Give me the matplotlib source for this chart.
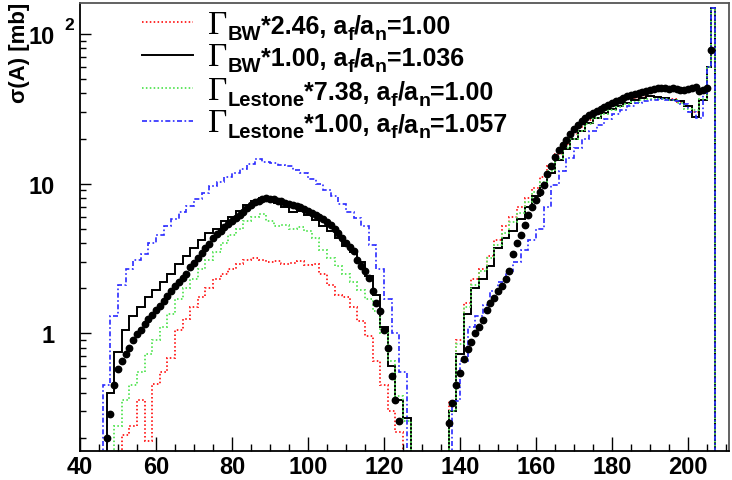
import numpy as np
import matplotlib
matplotlib.use("Agg")
import matplotlib.pyplot as plt
from matplotlib.ticker import FixedLocator, FixedFormatter, LogLocator, NullFormatter, MultipleLocator

plt.rcParams['font.family'] = 'Liberation Sans'
plt.rcParams['font.weight'] = 'bold'

# ---- measured cross sections (dots), 1 mass unit apart ----
data_left_start = 47
data_left = [0.20, 0.29, 0.45, 0.58, 0.65, 0.72, 0.80, 0.90, 0.98, 1.05,
             1.15, 1.25, 1.33, 1.42, 1.53, 1.65, 1.76, 1.9, 2.07, 2.2,
             2.35, 2.5, 2.75, 2.95, 3.2, 3.45, 3.7, 3.95, 4.3, 4.6,
             4.85, 5.1, 5.35, 5.6, 5.9, 6.2, 6.5, 6.85, 7.2, 7.5,
             7.7, 7.9, 8.0, 7.9, 7.85, 7.7, 7.6, 7.4, 7.3, 7.2,
             7.1, 7.0, 6.8, 6.6, 6.4, 6.15, 5.95, 5.75, 5.5, 5.25,
             4.95, 4.65, 4.3, 4.0, 3.75, 3.55, 3.1, 2.8, 2.6, 2.35,
             1.9, 1.6, 1.4, 1.05, 0.8, 0.52, 0.36, 0.26]
data_right_start = 137
data_right = [0.25, 0.34, 0.45, 0.54, 0.67, 0.78, 0.87, 1.0, 1.1, 1.23,
              1.43, 1.6, 1.72, 1.9, 2.08, 2.3, 2.6, 3.4, 4.0, 4.5,
              5.3, 6.2, 7.0, 7.8, 8.8, 9.8, 11.5, 13.0, 15.0, 16.7,
              18.2, 19.6, 21.5, 23.3, 24.8, 26.3, 27.5, 28.8, 29.7, 30.7,
              31.7, 32.6, 33.5, 34.4, 35.5, 36.4, 37.2, 38.2, 39.0, 39.8,
              40.5, 41.0, 41.8, 42.5, 42.8, 43.2, 43.5, 43.5, 43.0, 43.8,
              42.8, 42.4, 42.0, 43.0, 43.8, 44.2, 41.5, 42.4, 43.5, 78.0]

# ---- calculations (histograms), bins 2 units wide, 1 unit in the tail ----
bw246_left_start = 51
bw246_left = [0.21, 0.24, 0.36, 0.19, 0.46, 0.55, 0.68, 1.05, 1.25, 1.5,
              1.75, 2.0, 2.3, 2.5, 2.7, 2.9, 3.1, 3.2, 3.1, 3.0,
              3.05, 2.9, 2.95, 3.05, 2.85, 2.9, 2.5, 2.1, 1.8, 1.75,
              1.5, 1.2, 0.95, 0.65, 0.45, 0.3, 0.22]
bw100_left_start = 47
bw100_left = [0.4, 0.75, 1.05, 1.3, 1.5, 1.75, 1.95, 2.2, 2.5, 2.9,
              3.3, 3.7, 4.2, 4.7, 5.0, 5.6, 6.0, 6.6, 7.2, 7.6,
              8.0, 7.9, 7.4, 7.0, 6.5, 6.6, 6.2, 5.7, 5.2, 4.8,
              4.3, 3.8, 3.5, 3.0, 2.4, 1.8, 1.1, 0.6, 0.36, 0.27]
les738_left_start = 49
les738_left = [0.24, 0.36, 0.45, 0.55, 0.72, 0.9, 1.1, 1.35, 1.7, 2.0,
               2.3, 2.7, 3.1, 3.5, 4.0, 4.5, 5.0, 5.6, 6.0, 6.3,
               5.6, 5.2, 5.3, 5.0, 5.1, 4.8, 4.3, 3.6, 3.2, 2.8,
               2.5, 2.2, 1.95, 1.7, 1.4, 1.0, 0.65, 0.38, 0.26]
les100_left_start = 46
les100_left = [0.45, 1.3, 2.1, 2.7, 3.1, 3.4, 4.0, 4.5, 5.2, 5.8,
               6.5, 7.1, 7.9, 8.7, 9.6, 10.3, 11.0, 11.7, 12.5, 13.5,
               14.5, 14.0, 13.8, 13.4, 13.0, 12.4, 11.8, 10.8, 9.9, 9.0,
               8.2, 7.3, 6.5, 5.9, 5.2, 3.9, 2.7, 1.7, 1.0, 0.55]

bw246_right_start = 137
bw246_right = [0.35, 0.9, 1.6, 2.3, 2.7, 3.3, 4.2, 5.2, 6.0, 7.0,
               8.0, 9.3, 11.0, 13.2, 15.8, 18.5, 21.3, 24.0, 26.5, 29.0,
               31.3, 33.5, 35.0, 36.5, 37.5, 38.0, 38.5, 38.0, 37.3, 36.5,
               35.0, 33.0, 30.0, 36.0]
bw246_tail = [60, 150]
bw100_right_start = 137
bw100_right = [0.3, 0.72, 1.35, 2.0, 2.3, 2.8, 3.7, 4.3, 4.8, 5.8,
               7.0, 8.2, 9.6, 11.8, 14.3, 17.0, 20.0, 22.5, 25.5, 27.5,
               29.5, 31.5, 33.0, 34.5, 36.0, 37.5, 38.2, 38.0, 37.5, 36.3,
               35.5, 33.0, 28.0, 36.0]
bw100_tail = [60, 150]
les738_right_start = 137
les738_right = [0.3, 0.85, 1.5, 2.1, 2.6, 3.2, 3.9, 4.7, 5.5, 6.4,
                7.5, 8.8, 10.3, 12.2, 14.5, 17.2, 19.8, 22.5, 25.0, 27.3,
                29.3, 31.0, 32.5, 34.0, 35.0, 36.2, 36.8, 37.0, 36.5, 36.0,
                34.5, 31.5, 31.0, 36.5]
les738_tail = [60, 150]
les100_right_start = 138
les100_right = [0.35, 0.65, 1.1, 1.3, 1.55, 1.9, 2.2, 2.6, 3.0, 3.6,
                4.2, 5.0, 7.0, 9.8, 12.2, 14.8, 17.3, 19.8, 22.3, 24.5,
                26.8, 29.0, 31.0, 32.8, 34.3, 35.5, 36.3, 36.5, 36.3, 35.5,
                34.0, 30.0, 27.5]
les100_tail = [40, 60, 150]

# legend texts: (width name, factor, a_f/a_n ratio)
leg_width = ['BW', 'BW', 'Lestone', 'Lestone']
leg_factor = ['*2.46, a', '*1.00, a', '*7.38, a', '*1.00, a']
leg_ratio = ['=1.00', '=1.036', '=1.00', '=1.057']


def edges(start, n, tail=0):
    e = start + 2 * np.arange(n + 1)
    if tail:
        e = np.concatenate([e, e[-1] + np.arange(1, tail + 1)])
    return e


W, H = 732, 481
fig = plt.figure(figsize=(W / 100, H / 100), dpi=100)
ax = fig.add_axes([80 / W, 29 / H, 649 / W, 448 / H])
ymin, ymax = 0.163, 161
base = 0.05

styles = [
    dict(color='#ff2a2a', lw=1.4, ls=(0, (0.8, 1.2))),
    dict(color='black', lw=1.4, ls='-'),
    dict(color='#5fe65f', lw=1.4, ls=(0, (0.8, 1.2))),
    dict(color='#2a2aff', lw=1.2, ls=(0, (3, 1.5, 1, 1.5))),
]

series = [
    (bw246_left_start, bw246_left, bw246_right_start, bw246_right, bw246_tail),
    (bw100_left_start, bw100_left, bw100_right_start, bw100_right, bw100_tail),
    (les738_left_start, les738_left, les738_right_start, les738_right, les738_tail),
    (les100_left_start, les100_left, les100_right_start, les100_right, les100_tail),
]

for (ls0, lv, rs0, rv, tv), st in zip(series, styles):
    ax.stairs(lv, edges(ls0, len(lv)), baseline=base, **st)
    ax.stairs(list(rv) + list(tv), edges(rs0, len(rv), len(tv)), baseline=base, **st)

ax.plot(np.arange(data_left_start, data_left_start + len(data_left)), data_left,
        'o', color='black', ms=4.6, zorder=5)
ax.plot(np.arange(data_right_start, data_right_start + len(data_right)), data_right,
        'o', color='black', ms=4.6, zorder=5)

ax.set_yscale('log')
ax.set_xlim(40, 210.8)
ax.set_ylim(ymin, ymax)

ax.xaxis.set_major_locator(MultipleLocator(20))
ax.xaxis.set_minor_locator(MultipleLocator(5))
ax.yaxis.set_major_locator(FixedLocator([1, 10, 100]))
ax.yaxis.set_major_formatter(FixedFormatter(['1', '10', '10']))
ax.yaxis.set_minor_locator(LogLocator(base=10, subs=np.arange(2, 10)))
ax.yaxis.set_minor_formatter(NullFormatter())

ax.tick_params(axis='both', which='both', direction='in', top=False, right=False,
               labelsize=17, width=1.0)
ax.tick_params(axis='x', which='major', length=10, pad=3)
ax.tick_params(axis='x', which='minor', length=5)
ax.tick_params(axis='y', which='major', length=8, pad=18)
ax.tick_params(axis='y', which='minor', length=4)
for lab in ax.get_xticklabels() + ax.get_yticklabels():
    lab.set_fontweight('bold')

for s in ax.spines.values():
    s.set_linewidth(1.3)
ax.spines['top'].set_color('#555555')
ax.spines['right'].set_color('#555555')

# exponent of the 10^2 label, ROOT style
fig.text(69 / W, 1 - 26 / H, '2', fontsize=12.5, fontweight='bold', ha='center', va='center')
fig.text(20 / W, 1 - 3 / H, 'σ(A) [mb]', rotation=90, ha='center', va='top',
         fontsize=16, fontweight='bold')

# legend drawn by hand: line sample, then text pieces placed one after another
renderer = fig.canvas.get_renderer()
line_y = [23, 56, 89, 122]
for i, st in enumerate(styles):
    ly = 1 - line_y[i] / H
    fig.add_artist(plt.Line2D([142 / W, 193 / W], [ly, ly], **st))
    base_px = line_y[i] + 10.5
    pieces = [
        ('Γ', dict(fontsize=24, family='Liberation Serif', fontweight='normal'), 0),
        (leg_width[i], dict(fontsize=14.5), -6),
        (leg_factor[i], dict(fontsize=18), 0),
        ('f', dict(fontsize=14), -6),
        ('/a', dict(fontsize=18), 0),
        ('n', dict(fontsize=14), -6),
        (leg_ratio[i], dict(fontsize=18), 0),
    ]
    x = 208
    for s, kw, dy in pieces:
        kw.setdefault('fontweight', 'bold')
        t = fig.text(x / W, 1 - (base_px - dy) / H, s, ha='left', va='baseline', **kw)
        x += t.get_window_extent(renderer).width

fig.savefig('out.png', dpi=100)
